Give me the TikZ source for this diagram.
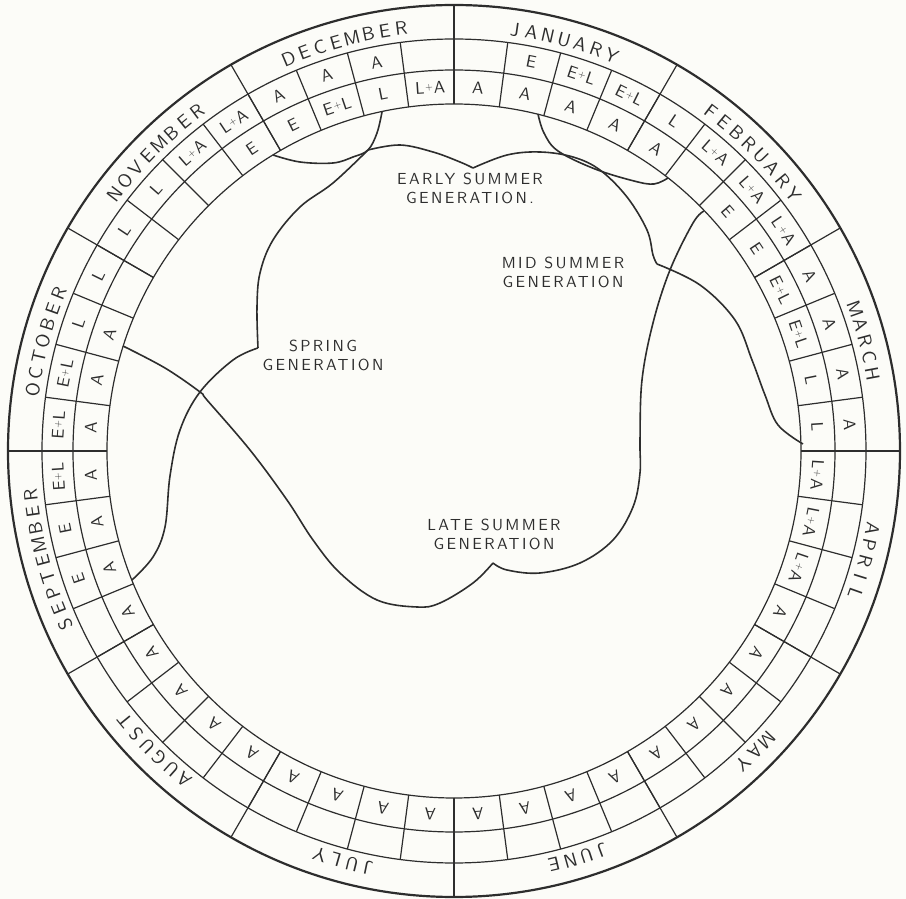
\documentclass[tikz,border=0pt]{standalone}
\usepackage{fontspec}
\newfontfamily\plainsans{lmsans10-regular}[Extension=.otf]
\newfontfamily\lettering{lmsans10-regular}[Extension=.otf, LetterSpace=15]

\definecolor{ink}{RGB}{45,45,45}
\definecolor{paper}{RGB}{252,252,248}

% small raised plus for E+L, L+A
\newcommand{\pl}{\kern0.8pt\raisebox{3.3pt}{\fontsize{10}{10}\selectfont+}\kern0.8pt}

% month name set letter by letter round the outer ring
\newcommand{\monthname}[3]{%
  \foreach \ch [count=\i] in {#3} {
    \pgfmathsetmacro{\ang}{#1+(\i-(#2+1)/2)*2.25}
    \node[monthletter, rotate=-\ang] (mon-#1-\i) at (90-\ang:419) {\ch};
  }}

\begin{document}
\begin{tikzpicture}[x=1pt, y=1pt,
  ringline/.style={draw=ink, line width=1.2pt},
  rim/.style={draw=ink, line width=2.2pt},
  gen/.style={draw=ink, line width=1.6pt},
  cell/.style={text=ink, inner sep=0pt, font=\plainsans\fontsize{17}{17}\selectfont},
  monthletter/.style={text=ink, inner sep=0pt, anchor=base,
                      font=\plainsans\fontsize{19}{19}\selectfont},
  genlabel/.style={text=ink, align=center, inner sep=0pt,
                   font=\lettering\fontsize{16}{19}\selectfont},
]

\fill[paper] (-454,-448) rectangle (452,451);
\useasboundingbox (-454,-448) rectangle (452,451);

% Rings
\draw[rim] (0,0) circle[radius=446];
\draw[ringline] (0,0) circle[radius=412];
\draw[ringline] (0,0) circle[radius=381];
\draw[ringline] (0,0) circle[radius=347];

% Month and week dividers
\foreach \m in {0,...,11}
  \draw[ringline] (90-30*\m:347) -- (90-30*\m:446);
\foreach \w in {0,...,47}
  \draw[ringline] (90-7.5*\w:347) -- (90-7.5*\w:412);

% Month names
\monthname{15}{7}{J,A,N,U,A,R,Y}
\monthname{45}{8}{F,E,B,R,U,A,R,Y}
\monthname{75}{5}{M,A,R,C,H}
\monthname{105}{5}{A,P,R,I,L}
\monthname{135}{3}{M,A,Y}
\monthname{163}{4}{J,U,N,E}
\monthname{195}{4}{J,U,L,Y}
\monthname{225}{6}{A,U,G,U,S,T}
\monthname{255}{9}{S,E,P,T,E,M,B,E,R}
\monthname{285}{7}{O,C,T,O,B,E,R}
\monthname{315}{8}{N,O,V,E,M,B,E,R}
\monthname{345}{8}{D,E,C,E,M,B,E,R}

% Outer row of weeks
\foreach \lab [count=\i from 0] in {
    {},E,E\pl L,E\pl L,  L,L\pl A,L\pl A,L\pl A,  A,A,A,A,
    {},{},{},{},  {},{},{},{},  {},{},{},{},
    {},{},{},{},  {},{},{},{},  {},E,E,E\pl L,
    E\pl L,E\pl L,L,L,  L,L,L\pl A,L\pl A,  A,A,A,{}} {
  \pgfmathsetmacro{\ang}{7.5*\i+3.75}
  \node[cell, rotate=-\ang] (out-\i) at (90-\ang:396.5) {\lab};
}

% Inner row of weeks
\foreach \lab [count=\i from 0] in {
    A,A,A,A,  A,{},E,E,  E\pl L,E\pl L,L,L,
    L\pl A,L\pl A,L\pl A,A,  A,A,A,A,  A,A,A,A,
    A,A,A,A,  A,A,A,A,  A,A,A,A,
    A,A,A,{},  {},{},{},E,  E,E\pl L,L,L\pl A} {
  \pgfmathsetmacro{\ang}{7.5*\i+3.75}
  \node[cell, rotate=-\ang] (in-\i) at (90-\ang:364) {\lab};
}

% Generation boundaries
\draw[gen] plot[smooth, tension=0.6] coordinates {
  (-181,296) (-154,289) (-121,288) (-101,294) (-86,301) (-77,318) (-72,339)};
\draw[gen] plot[smooth, tension=0.6] coordinates {
  (-86,301) (-121,268) (-154,244) (-181,211) (-194,178) (-197,144) (-196,103)};
\draw[gen] plot[smooth, tension=0.6] coordinates {
  (-196,103) (-221,91) (-254,59) (-274,21) (-284,-25) (-289,-76) (-301,-106) (-322,-129)};
\draw[gen] plot[smooth, tension=0.6] coordinates {
  (-86,301) (-54,306) (-21,299) (6,289) (19,283)};
\draw[gen] plot[smooth, tension=0.6] coordinates {
  (19,283) (53,296) (86,299) (119,294) (146,281) (173,254) (193,221) (199,196) (203,187)};
\draw[gen] plot[smooth, tension=0.6] coordinates {
  (203,187) (246,166) (281,131) (298,91) (311,56) (324,26) (349,7)};
\draw[gen] plot[smooth, tension=0.6] coordinates {
  (250,240) (239,228) (216,181) (199,128) (188,71) (186,11) (186,-22) (179,-56)
  (159,-89) (126,-112) (86,-122) (53,-119) (39,-112)};
\draw[gen] plot[smooth, tension=0.6] coordinates {
  (39,-112) (19,-132) (-14,-152) (-37,-156) (-77,-149) (-114,-122) (-141,-89)
  (-167,-49) (-204,1) (-247,51) (-254,59) (-289,83) (-331,105)};
\draw[gen] plot[smooth, tension=0.6] coordinates {
  (84,337) (90,318) (104,300) (141,282) (180,270) (200,267) (214,273)};

% Generation names
\node[genlabel] (early) at (16,263) {EARLY SUMMER\\GENERATION.};
\node[genlabel] (mid) at (109,179) {MID SUMMER\\GENERATION};
\node[genlabel] (spring) at (-131,96) {SPRING\\GENERATION};
\node[genlabel] (late) at (40,-83) {LATE SUMMER\\GENERATION};

\end{tikzpicture}
\end{document}
